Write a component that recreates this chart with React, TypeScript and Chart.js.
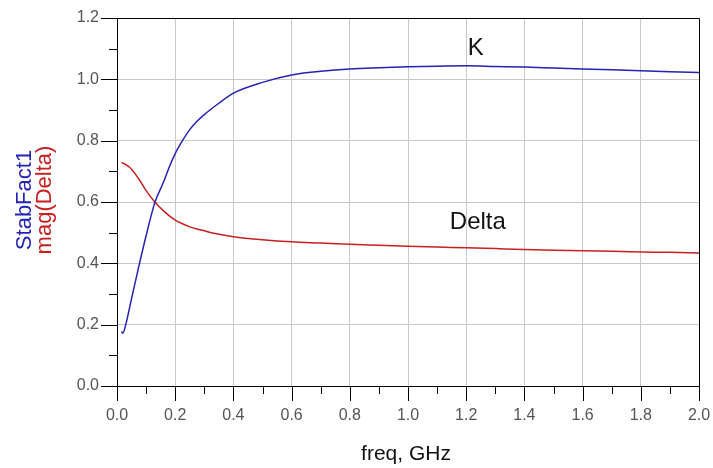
import React, { useEffect, useRef } from "react";
import { Chart, registerables } from "chart.js";

Chart.register(...registerables);

// frequency points (GHz)
const freq = [0.015, 0.02, 0.03, 0.05, 0.075, 0.1, 0.13, 0.16, 0.18, 0.2, 0.225, 0.25, 0.275, 0.3, 0.35, 0.4, 0.5, 0.6, 0.7, 0.8, 0.9, 1.0, 1.1, 1.2, 1.3, 1.4, 1.5, 1.6, 1.7, 1.8, 1.9, 2.0];
// StabFact1 (K)
const kValues = [0.178, 0.172, 0.2, 0.285, 0.39, 0.49, 0.598, 0.665, 0.715, 0.758, 0.8, 0.836, 0.863, 0.885, 0.922, 0.955, 0.99, 1.014, 1.026, 1.034, 1.038, 1.041, 1.043, 1.044, 1.042, 1.04, 1.037, 1.034, 1.031, 1.028, 1.025, 1.022];
// mag(Delta)
const deltaValues = [0.729, 0.727, 0.722, 0.707, 0.675, 0.637, 0.6, 0.571, 0.555, 0.541, 0.529, 0.519, 0.512, 0.506, 0.495, 0.487, 0.477, 0.47, 0.466, 0.462, 0.459, 0.456, 0.453, 0.451, 0.448, 0.445, 0.443, 0.441, 0.439, 0.437, 0.436, 0.434];

const xTickStep = 0.1;
const yTickStep = 0.1;

const FONT = "'Liberation Sans', Arial, sans-serif";
const BLUE = "#2323b4";
const RED = "#c82020";

const isMajor = (v: number) => Math.round(v * 10) % 2 === 0;

const decorPlugin = {
  id: "decor",
  afterDraw(chart: any) {
    const { ctx, chartArea } = chart;
    const { left, right, top, bottom } = chartArea;
    const xs = chart.scales.x;
    const ys = chart.scales.y;
    ctx.save();
    // border
    ctx.strokeStyle = "#000";
    ctx.lineWidth = 1;
    ctx.beginPath();
    ctx.rect(Math.round(left) + 0.5, Math.round(top) + 0.5, Math.round(right - left), Math.round(bottom - top));
    ctx.stroke();
    // tick marks
    ctx.beginPath();
    for (let i = 0; i <= 12; i++) {
      const v = i * yTickStep;
      const py = Math.round(ys.getPixelForValue(v)) + 0.5;
      const len = isMajor(v) ? 16 : 8;
      ctx.moveTo(left - len, py);
      ctx.lineTo(left, py);
    }
    for (let i = 0; i <= 20; i++) {
      const v = i * xTickStep;
      const px = Math.round(xs.getPixelForValue(v)) + 0.5;
      const len = isMajor(v) ? 15 : 8;
      ctx.moveTo(px, bottom);
      ctx.lineTo(px, bottom + len);
    }
    ctx.stroke();

    // y axis title (two lines, rotated)
    ctx.font = `22px ${FONT}`;
    ctx.textAlign = "center";
    ctx.textBaseline = "alphabetic";
    const cy = (top + bottom) / 2 - 2;
    ctx.save();
    ctx.translate(31, cy);
    ctx.rotate(-Math.PI / 2);
    ctx.fillStyle = BLUE;
    ctx.fillText("StabFact1", 0, 0);
    ctx.restore();
    ctx.save();
    ctx.translate(51, cy);
    ctx.rotate(-Math.PI / 2);
    ctx.fillStyle = RED;
    ctx.fillText("mag(Delta)", 0, 0);
    ctx.restore();

    // x axis title
    ctx.fillStyle = "#111";
    ctx.font = `21px ${FONT}`;
    ctx.fillText("freq, GHz", (left + right) / 2 - 2, 460);

    // curve labels
    ctx.font = `24px ${FONT}`;
    ctx.textBaseline = "middle";
    ctx.fillText("K", xs.getPixelForValue(1.233), ys.getPixelForValue(1.101));
    ctx.fillText("Delta", xs.getPixelForValue(1.24), ys.getPixelForValue(0.534));
    ctx.restore();
  },
};

export default function App() {
  const ref = useRef<HTMLCanvasElement | null>(null);
  useEffect(() => {
    if (!ref.current) return;
    const chart = new Chart(ref.current, {
      type: "line",
      data: {
        datasets: [
          {
            label: "StabFact1",
            data: freq.map((f, i) => ({ x: f, y: kValues[i] })),
            borderColor: BLUE,
            borderWidth: 1.5,
            pointRadius: 0,
            cubicInterpolationMode: "monotone",
            fill: false,
          },
          {
            label: "mag(Delta)",
            data: freq.map((f, i) => ({ x: f, y: deltaValues[i] })),
            borderColor: RED,
            borderWidth: 1.5,
            pointRadius: 0,
            cubicInterpolationMode: "monotone",
            fill: false,
          },
        ],
      },
      options: {
        animation: false,
        responsive: false,
        layout: { padding: { top: 18, right: 14, left: 0, bottom: 0 } },
        plugins: { legend: { display: false }, tooltip: { enabled: false } },
        scales: {
          x: {
            type: "linear",
            min: 0,
            max: 2,
            border: { display: false },
            grid: {
              drawTicks: false,
              color: (c: any) => (c.tick && isMajor(c.tick.value) ? "#c8c8c8" : "rgba(0,0,0,0)"),
            },
            ticks: {
              stepSize: xTickStep,
              autoSkip: false,
              maxRotation: 0,
              padding: 20,
              color: "#555",
              font: { family: FONT, size: 16 },
              callback: (v: any) => (isMajor(Number(v)) ? Number(v).toFixed(1) : ""),
            },
            afterFit: (s: any) => {
              s.height = 82;
              s.paddingLeft = 0;
              s.paddingRight = 0;
            },
          },
          y: {
            min: 0,
            max: 1.2,
            border: { display: false },
            grid: {
              drawTicks: false,
              color: (c: any) => (c.tick && isMajor(c.tick.value) ? "#c8c8c8" : "rgba(0,0,0,0)"),
            },
            ticks: {
              stepSize: yTickStep,
              autoSkip: false,
              padding: 18,
              color: "#555",
              font: { family: FONT, size: 16 },
              callback: (v: any) => (isMajor(Number(v)) ? Number(v).toFixed(1) : ""),
            },
            afterFit: (s: any) => {
              s.width = 117;
              s.paddingTop = 0;
              s.paddingBottom = 0;
            },
          },
        },
      },
      plugins: [decorPlugin],
    } as any);
    return () => chart.destroy();
  }, []);
  return (
    <div style={{ position: "absolute", left: 0, top: 0, width: 713, height: 468, background: "#fff" }}>
      <canvas ref={ref} width={713} height={468} />
    </div>
  );
}
